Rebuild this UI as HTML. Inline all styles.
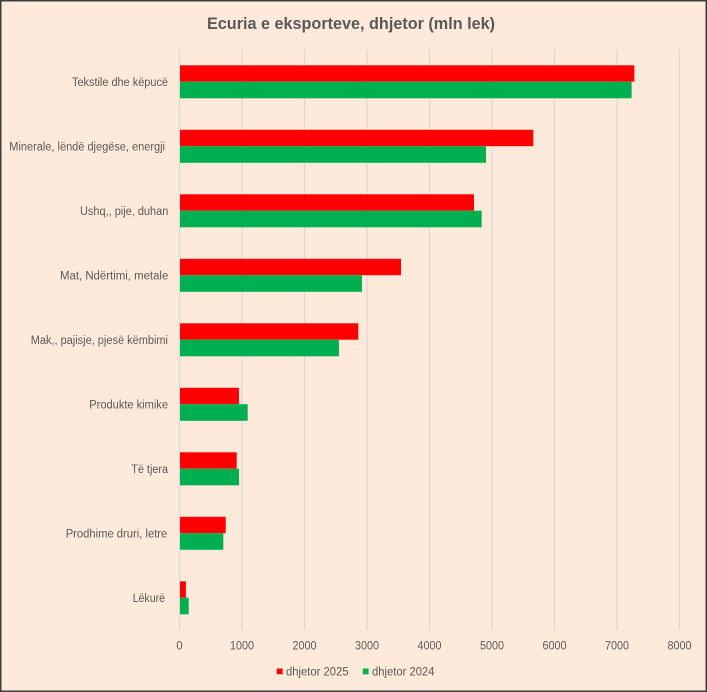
<!DOCTYPE html>
<html>
<head>
<meta charset="utf-8">
<style>
  html, body { margin: 0; padding: 0; background: #FDEADA; }
  svg { display: block; }
  text { font-family: "Liberation Sans", "DejaVu Sans", sans-serif; fill: #595959; }
</style>
</head>
<body>
<svg width="707" height="692" viewBox="0 0 707 692" xmlns="http://www.w3.org/2000/svg">
  <rect x="0" y="0" width="707" height="692" fill="#FDEADA"/>
  <rect x="0.75" y="0.75" width="705.5" height="690.5" fill="none" stroke="#3c3c3c" stroke-width="1.5"/>

  <!-- Title -->
  <text x="351" y="29" font-size="16.5" font-weight="bold" text-anchor="middle" textLength="288" lengthAdjust="spacingAndGlyphs">Ecuria e eksporteve, dhjetor (mln lek)</text>

  <!-- Gridlines -->
  <g stroke="#D9D9D9" stroke-width="1.3">
    <line x1="179.5" y1="49.5" x2="179.5" y2="630"/>
    <line x1="242" y1="49.5" x2="242" y2="630"/>
    <line x1="304.5" y1="49.5" x2="304.5" y2="630"/>
    <line x1="367" y1="49.5" x2="367" y2="630"/>
    <line x1="429.5" y1="49.5" x2="429.5" y2="630"/>
    <line x1="492" y1="49.5" x2="492" y2="630"/>
    <line x1="554.5" y1="49.5" x2="554.5" y2="630"/>
    <line x1="617" y1="49.5" x2="617" y2="630"/>
    <line x1="679.5" y1="49.5" x2="679.5" y2="630"/>
  </g>

  <!-- Bars: red = dhjetor 2025, green = dhjetor 2024 -->
  <g>
    <rect x="180" y="65.3" width="454.4" height="16.4" fill="#FF0000"/>
    <rect x="180" y="81.7" width="451.6" height="16.6" fill="#00B050"/>

    <rect x="180" y="129.8" width="353.3" height="16.4" fill="#FF0000"/>
    <rect x="180" y="146.2" width="306" height="16.6" fill="#00B050"/>

    <rect x="180" y="194.3" width="294" height="16.4" fill="#FF0000"/>
    <rect x="180" y="210.7" width="301.7" height="16.6" fill="#00B050"/>

    <rect x="180" y="258.8" width="221" height="16.4" fill="#FF0000"/>
    <rect x="180" y="275.2" width="182" height="16.6" fill="#00B050"/>

    <rect x="180" y="323.3" width="178.3" height="16.4" fill="#FF0000"/>
    <rect x="180" y="339.7" width="159" height="16.6" fill="#00B050"/>

    <rect x="180" y="387.8" width="59" height="16.4" fill="#FF0000"/>
    <rect x="180" y="404.2" width="67.7" height="16.6" fill="#00B050"/>

    <rect x="180" y="452.3" width="56.7" height="16.4" fill="#FF0000"/>
    <rect x="180" y="468.7" width="59" height="16.6" fill="#00B050"/>

    <rect x="180" y="516.8" width="45.7" height="16.4" fill="#FF0000"/>
    <rect x="180" y="533.2" width="43.3" height="16.6" fill="#00B050"/>

    <rect x="180" y="581.3" width="5.9" height="16.4" fill="#FF0000"/>
    <rect x="180" y="597.7" width="8.7" height="16.6" fill="#00B050"/>
  </g>

  <!-- Category labels -->
  <g font-size="11.5">
    <text x="72" y="86" textLength="96" lengthAdjust="spacingAndGlyphs">Tekstile dhe këpucë</text>
    <text x="9.3" y="150.5" textLength="155.7" lengthAdjust="spacingAndGlyphs">Minerale, lëndë djegëse, energji</text>
    <text x="80" y="215" textLength="88.3" lengthAdjust="spacingAndGlyphs">Ushq,, pije, duhan</text>
    <text x="60" y="279.5" textLength="108.3" lengthAdjust="spacingAndGlyphs">Mat, Ndërtimi, metale</text>
    <text x="30.7" y="344" textLength="137.3" lengthAdjust="spacingAndGlyphs">Mak,, pajisje, pjesë këmbimi</text>
    <text x="89.3" y="408.5" textLength="78.7" lengthAdjust="spacingAndGlyphs">Produkte kimike</text>
    <text x="131.3" y="473" textLength="36.7" lengthAdjust="spacingAndGlyphs">Të tjera</text>
    <text x="65.7" y="537.5" textLength="101.6" lengthAdjust="spacingAndGlyphs">Prodhime druri, letre</text>
    <text x="132.7" y="602" textLength="32.3" lengthAdjust="spacingAndGlyphs">Lëkurë</text>
  </g>

  <!-- X tick labels -->
  <g font-size="11.5" text-anchor="middle">
    <text x="179.5" y="649.5">0</text>
    <text x="242" y="649.5" textLength="24" lengthAdjust="spacingAndGlyphs">1000</text>
    <text x="304.5" y="649.5" textLength="24" lengthAdjust="spacingAndGlyphs">2000</text>
    <text x="367" y="649.5" textLength="24" lengthAdjust="spacingAndGlyphs">3000</text>
    <text x="429.5" y="649.5" textLength="24" lengthAdjust="spacingAndGlyphs">4000</text>
    <text x="492" y="649.5" textLength="24" lengthAdjust="spacingAndGlyphs">5000</text>
    <text x="554.5" y="649.5" textLength="24" lengthAdjust="spacingAndGlyphs">6000</text>
    <text x="617" y="649.5" textLength="24" lengthAdjust="spacingAndGlyphs">7000</text>
    <text x="679.5" y="649.5" textLength="24" lengthAdjust="spacingAndGlyphs">8000</text>
  </g>

  <!-- Legend -->
  <rect x="276.8" y="668.5" width="5.8" height="5.8" fill="#FF0000"/>
  <text x="286" y="675.5" font-size="11.5" textLength="62.6" lengthAdjust="spacingAndGlyphs">dhjetor 2025</text>
  <rect x="362.8" y="668.5" width="5.8" height="5.8" fill="#00B050"/>
  <text x="372" y="675.5" font-size="11.5" textLength="62.5" lengthAdjust="spacingAndGlyphs">dhjetor 2024</text>
</svg>
</body>
</html>
